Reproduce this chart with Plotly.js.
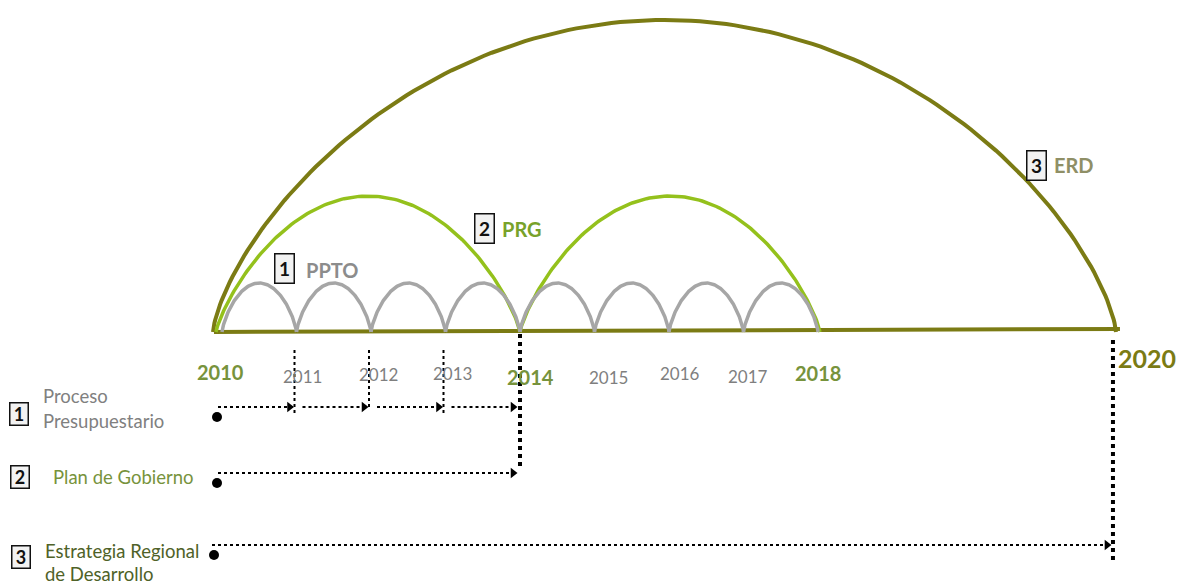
<!DOCTYPE html>
<html><head><meta charset="utf-8">
<script src="https://cdn.plot.ly/plotly-3.0.1.min.js"></script>
<style>html,body{margin:0;padding:0;background:#fff}#chart{width:1179px;height:587px}</style>
</head><body><div id="chart"></div>
<script>
// ---------- data ----------
const years = [2010, 2011, 2012, 2013, 2014, 2015, 2016, 2017, 2018, 2020];
const majorYears = [2010, 2014, 2018, 2020];
const pptoStart = [2010, 2011, 2012, 2013, 2014, 2015, 2016, 2017];
const pptoEnd   = [2011, 2012, 2013, 2014, 2015, 2016, 2017, 2018];
const pptoHeight = 49;
const prgStart = [2010, 2014];
const prgEnd   = [2014, 2018];
const prgHeight = 136;
const erdStart = [2010];
const erdEnd   = [2020];
const erdHeight = 312;
const processLines = [["Proceso", "Presupuestario"], ["Plan de Gobierno"], ["Estrategia Regional", "de Desarrollo"]];
const processStart = [2010, 2010, 2010];
const processEnd   = [2014, 2014, 2020];
const processStep  = [1, 4, 10];
const arcLabels = ["PPTO", "PRG", "ERD"];

// ---------- layout helpers ----------
const PX = 74.5;                       // px per year
const xp = y => y <= 2018 ? y : 2018 + (y - 2018) * 1.993;   // broken axis after 2018
const dx = px => px / PX;
const OLIVE = '#7b7b14', LIME = '#94c11c', GRAY = '#a6a6a6';
const FONT = 'Lato, "Open Sans", sans-serif';

const traces = [];
function arc(a, b, h, color, w, p, padL, padR) {
  const xs = [], ys = [];
  const x0 = xp(a) - dx(padL || 0), x1 = xp(b) + dx(padR || 0);
  for (let i = 0; i <= 160; i++) {
    const t = Math.PI * i / 160;
    xs.push((x0 + x1) / 2 - Math.cos(t) * (x1 - x0) / 2);
    ys.push(h * Math.pow(Math.sin(t), 2 * p));
  }
  traces.push({x: xs, y: ys, mode: 'lines', line: {color, width: w}, hoverinfo: 'skip'});
}
// baseline
traces.push({x: [xp(2010) - dx(8), xp(2020) + dx(5)], y: [0, 3], mode: 'lines', line: {color: OLIVE, width: 4}, hoverinfo: 'skip'});
erdStart.forEach((s, i) => arc(s, erdEnd[i], erdHeight, OLIVE, 4, 0.7, 9, 1));
prgStart.forEach((s, i) => arc(s, prgEnd[i], prgHeight, LIME, 3.5, 0.8, i === 0 ? 6 : 0, i === 0 ? 0 : 2));
pptoStart.forEach((s, i) => arc(s, pptoEnd[i], pptoHeight, GRAY, 3.5, 0.75));

// vertical dotted guides
const rowY = [-75, -141, -213];
[2011, 2012, 2013].forEach((y, i) => {
  traces.push({x: [xp(y) - dx(2), xp(y) - dx(2)], y: [-18, i === 1 ? -76 : -83], mode: 'lines',
    line: {color: '#000', width: 2, dash: 'dot'}, hoverinfo: 'skip'});
});
traces.push({x: [xp(2014), xp(2014)], y: [-2, -138], mode: 'lines', line: {color: '#000', width: 4, dash: 'dot'}, hoverinfo: 'skip'});
traces.push({x: [xp(2020) - dx(2), xp(2020) - dx(2)], y: [-8, -228], mode: 'lines', line: {color: '#000', width: 4, dash: 'dot'}, hoverinfo: 'skip'});

// process arrows
processStart.forEach((s, r) => {
  const yy = rowY[r];
  for (let a = s; a < processEnd[r]; a += processStep[r]) {
    const b = a + processStep[r];
    const xa = xp(a) + (a === s ? dx(-4 - (r === 2 ? 6 : 0)) : dx(6));
    const xb = xp(b) - dx(r === 2 ? 4 : 3);
    traces.push({x: [xa, xb], y: [yy, yy], mode: 'lines', line: {color: '#000', width: 2, dash: 'dot'}, hoverinfo: 'skip'});
    traces.push({x: [xb - dx(4)], y: [yy], mode: 'markers', marker: {symbol: 'triangle-right', size: 9, color: '#000'}, hoverinfo: 'skip'});
  }
  traces.push({x: [xp(s) - dx(r === 2 ? 8 : 5)], y: [yy - 10], mode: 'markers', marker: {symbol: 'circle', size: 10, color: '#000'}, hoverinfo: 'skip'});
});

// ---------- annotations ----------
const ann = [];
const yearShift = {2010: -2, 2011: 6, 2012: 7, 2013: 7, 2014: 10, 2015: 14, 2016: 11, 2017: 4, 2018: 0, 2020: 32};
const yearY = {2010: -40, 2011: -44, 2012: -42, 2013: -41, 2014: -45, 2015: -45, 2016: -41, 2017: -44, 2018: -41, 2020: -26};
years.forEach(y => {
  const major = majorYears.includes(y);
  ann.push({x: xp(y), y: yearY[y], xref: 'x', yref: 'y', xshift: yearShift[y], showarrow: false,
    xanchor: 'center', yanchor: 'middle',
    text: major ? '<b>' + y + '</b>' : String(y),
    font: {family: FONT, size: y === 2020 ? 25 : (major ? 20 : 17), color: y === 2020 ? OLIVE : (major ? '#77933c' : '#7f7f7f')}});
});
function box(px, py, n, w, h, size) {
  ann.push({x: px / 1179, y: 1 - py / 587, xref: 'paper', yref: 'paper', xanchor: 'center', yanchor: 'middle',
    showarrow: false, text: '<b>' + n + '</b>', width: w, height: h, align: 'center', valign: 'middle',
    font: {family: FONT, size: size, color: '#111'}, bordercolor: '#111', borderwidth: 1.5, borderpad: 2, bgcolor: '#f2f2f2'});
}
function label(px, py, text, color, size, bold) {
  ann.push({x: px / 1179, y: 1 - py / 587, xref: 'paper', yref: 'paper', xanchor: 'left', yanchor: 'middle', align: 'left',
    showarrow: false, text: bold ? '<b>' + text + '</b>' : text, font: {family: FONT, size, color}});
}
box(19, 414, 1, 13, 17, 18);
label(41, 396, processLines[0][0], '#808080', 18.5, false);
label(41, 421, processLines[0][1], '#808080', 18.5, false);
box(20, 477, 2, 13, 17, 18);
label(51, 477, processLines[1][0], '#77933c', 18.5, false);
box(21, 557, 3, 13, 17, 18);
label(43, 551, processLines[2][0], '#4f6228', 18.5, false);
label(43, 574, processLines[2][1], '#4f6228', 18.5, false);
box(284, 268, 1, 14, 24, 19); label(304, 270, arcLabels[0], '#8c8c8c', 20, true);
box(484, 228, 2, 14, 24, 19); label(500, 229, arcLabels[1], '#78a22a', 20, true);
box(1036, 165, 3, 14, 24, 19); label(1052, 165, arcLabels[2], '#8f8f66', 20, true);

const layout = {
  width: 1179, height: 587, margin: {l: 0, r: 0, t: 0, b: 0},
  paper_bgcolor: '#fff', plot_bgcolor: '#fff', showlegend: false,
  xaxis: {range: [2010 - 222 / PX, 2010 + 957 / PX], visible: false, fixedrange: true},
  yaxis: {range: [-255, 332], visible: false, fixedrange: true},
  annotations: ann
};
Plotly.newPlot('chart', traces, layout, {displayModeBar: false, staticPlot: true});
</script></body></html>
